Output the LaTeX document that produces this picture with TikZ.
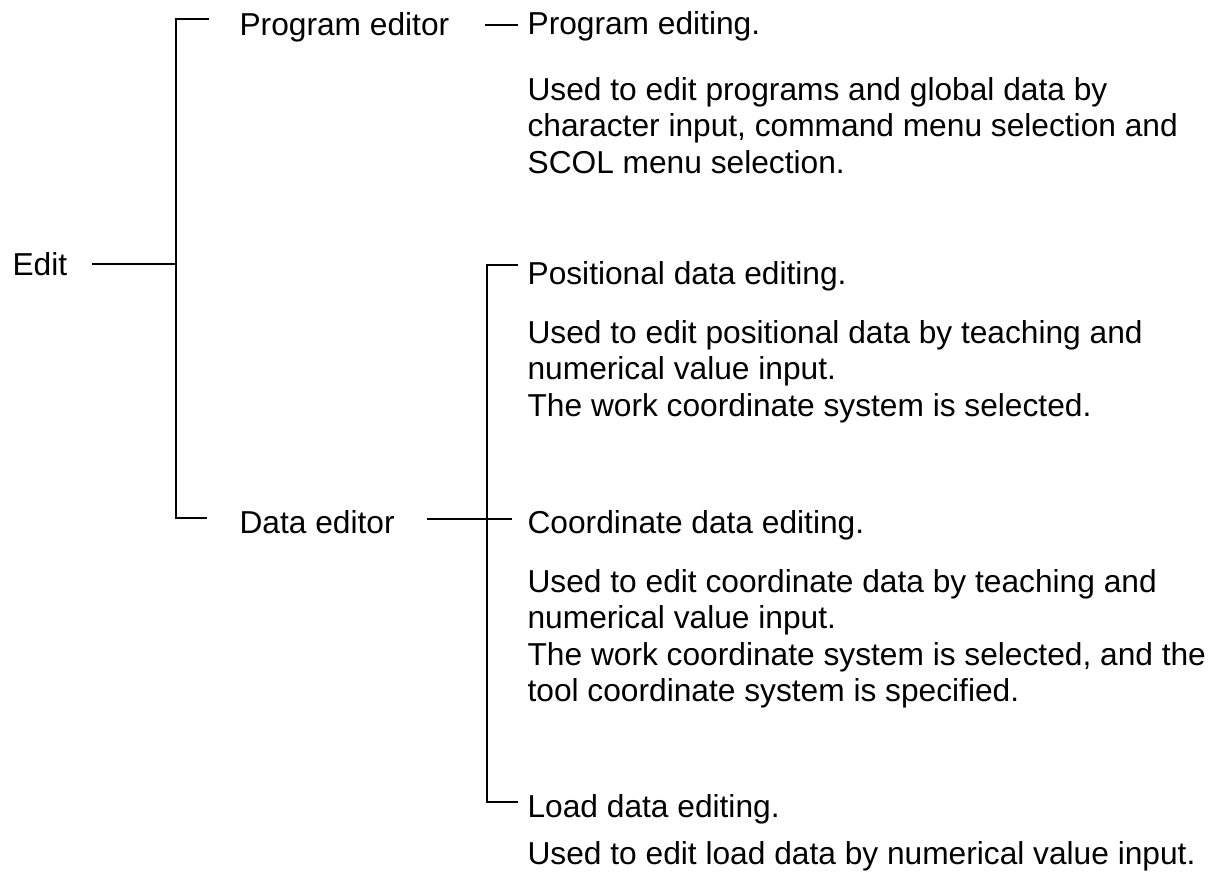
\documentclass[tikz,border=0pt]{standalone}
\usepackage{fontspec}
\setmainfont{Liberation Sans}
\usepackage{tikz}
\usetikzlibrary{positioning}
\usetikzlibrary{calc}
\tikzset{
	lbl/.style={anchor=base west, inner sep=0pt},
	desc/.style={anchor=north west, inner sep=0pt, align=left},
}

\begin{document}
\begin{tikzpicture}[x=1pt, y=-1pt, line width=1.2pt, font=\fontsize{31.7}{36.4}\selectfont]
			\useasboundingbox (0,0) rectangle (1214,882);
			% first level
			\node[lbl] (edit) at (12,276) {Edit};
			\node[lbl] (progeditor) at (239,36) {Program editor};
			\node[lbl] (dataeditor) at (239,533) {Data editor};
			% second level
			\node[lbl] (progedit) at (527,35) {Program editing.};
			\node[desc] (progdesc) at (527,77) {Used to edit programs and global data by\\character input, command menu selection and\\SCOL menu selection.};
			\node[lbl] (posedit) at (527,285) {Positional data editing.};
			\node[desc] (posdesc) at (527,320) {Used to edit positional data by teaching and\\numerical value input.\\The work coordinate system is selected.};
			\node[lbl] (coordedit) at (527,533) {Coordinate data editing.};
			\node[desc] (coorddesc) at (527,569) {Used to edit coordinate data by teaching and\\numerical value input.\\The work coordinate system is selected, and the\\tool coordinate system is specified.};
			\node[lbl] (loadedit) at (527,817) {Load data editing.};
			\node[desc] (loaddesc) at (527,841) {Used to edit load data by numerical value input.};
			% joints
			\coordinate (e0) at (92,264);
			\coordinate (j1) at (176,264);
			\coordinate (j1t) at (176,19);
			\coordinate (j1b) at (176,518);
			\coordinate (p0) at (209,19);
			\coordinate (d0) at (207,518);
			\coordinate (p1) at (485,25);
			\coordinate (p2) at (518,25);
			\coordinate (d1) at (427,519);
			\coordinate (d2) at (512,519);
			\coordinate (j2t) at (487,265);
			\coordinate (j2b) at (487,802);
			\coordinate (q0) at (518,265);
			\coordinate (q1) at (518,802);
			% lines
			\draw (e0) -- (j1);
			\draw (p0) -- (j1t) -- (j1b) -- (d0);
			\draw (p1) -- (p2);
			\draw (d1) -- (d2);
			\draw (q0) -- (j2t) -- (j2b) -- (q1);
		\end{tikzpicture}
\end{document}
